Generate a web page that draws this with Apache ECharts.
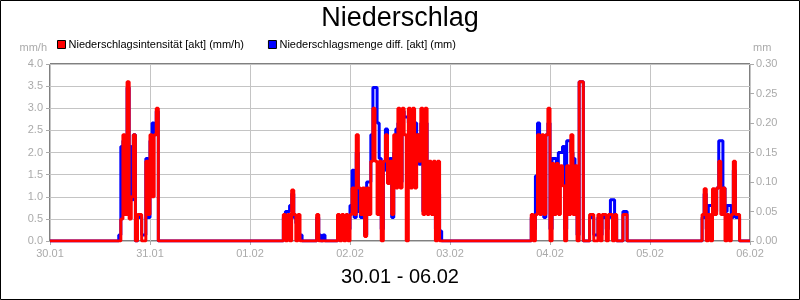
<!DOCTYPE html>
<html>
<head>
<meta charset="utf-8">
<script src="https://cdn.jsdelivr.net/npm/echarts@6/dist/echarts.min.js"></script>
<style>html,body{margin:0;padding:0;background:#fff;}#c{width:800px;height:300px;}</style>
</head>
<body>
<div id="c"></div>
<script>
// Time axis: hours since 30.01 00:00
const dayLabels = ['30.01','31.01','01.02','02.02','03.02','04.02','05.02','06.02'];
const hours = [0,
  16.5,17,17.5,18,18.5,19,19.5,20,20.5,21,21.5,22,22.5,23,23.5,24,24.5,25,25.5,26,
  56,56.5,57,57.5,58,58.5,59,59.5,60,60.5,64,64.5,65,65.5,66,
  69,69.5,70,70.5,71,71.5,72,72.5,73,73.5,74,74.5,75,75.5,76,76.5,77,77.5,78,78.5,79,79.5,80,80.5,81,81.5,82,82.5,83,83.5,84,84.5,85,85.5,86,86.5,87,87.5,88,88.5,89,89.5,90,90.5,91,91.5,92,92.5,93,93.5,94,
  115.5,116,116.5,117,117.5,118,118.5,119,119.5,120,120.5,121,121.5,122,122.5,123,123.5,124,124.5,125,125.5,126,126.5,127,127.5,128,129.5,130,130.5,131,131.5,132,132.5,133,133.5,134,134.5,135,135.5,136,137.5,138,138.5,
  156.5,157,157.5,158,158.5,159,159.5,160,160.5,161,161.5,162,162.5,163,163.5,164,164.5,165,165.5,
  168];
// Niederschlagsintensität [akt] (mm/h)
const intensity = [0,
  0,0.5,2.4,0.6,3.6,0.5,1.0,2.4,0,0.6,0.6,0,0,1.8,0.6,2.4,1.0,2.4,3.0,0,
  0.6,0,0.6,0,1.15,0.6,0,0.6,0,0,0.6,0,0,0,0,
  0.6,0,0.6,0,0.6,0,0.6,1.2,0.6,2.4,1.2,0.6,1.2,0.1,1.2,0.6,1.8,3.0,1.8,0.6,1.8,0,1.8,2.4,1.3,1.8,0.6,2.4,1.2,3.0,1.2,3.0,2.4,0,3.0,1.2,3.0,1.2,2.4,1.8,3.0,0.6,3.0,0.6,1.8,0.6,1.8,0,1.8,0,0,
  0.6,0,0.6,2.4,0.6,2.4,0.6,2.4,3.0,0,1.75,0.6,1.75,0.6,1.7,1.25,0,1.7,0.6,2.4,0.6,1.7,0,3.6,3.6,0,0.6,0.6,0,0,0.6,0,0.6,0.6,0,0.6,0.6,0,0.6,0,0.6,0.6,0,
  0.6,1.18,0,0.6,0,1.18,0.6,1.2,1.8,0.6,1.2,0,0.6,0,0.6,1.8,0.6,0.6,0,
  0];
// Niederschlagsmenge diff. [akt] (mm)
const amount = [0,
  0.01,0.16,0.17,0.05,0.26,0.16,0.07,0.18,0,0.04,0.04,0.01,0.01,0.14,0.04,0.17,0.2,0.18,0.22,0,
  0.04,0.05,0.05,0.06,0.08,0.04,0.03,0.01,0.01,0,0.04,0.01,0,0.01,0,
  0.04,0.02,0.04,0.02,0.02,0.02,0.06,0.12,0.04,0.15,0.05,0.04,0.08,0.01,0.1,0.1,0.18,0.26,0.26,0.2,0.14,0.02,0.12,0.19,0.1,0.14,0.04,0.15,0.19,0.2,0.1,0.22,0.21,0.21,0.2,0.1,0.2,0.2,0.18,0.13,0.2,0.05,0.2,0.05,0.1,0.13,0.13,0.02,0.08,0.017,0,
  0.04,0.02,0.11,0.2,0.05,0.17,0.04,0.18,0.2,0.02,0.14,0.14,0.13,0.15,0.15,0.16,0.02,0.17,0.17,0.15,0.14,0.1,0.01,0.27,0.27,0,0.04,0.04,0.01,0.01,0.04,0.01,0.04,0.04,0.02,0.04,0.07,0.07,0.04,0,0.05,0.05,0,
  0.04,0.08,0.02,0.06,0.06,0.08,0.05,0.09,0.17,0.17,0.09,0.05,0.06,0.06,0.04,0.12,0.04,0.04,0,
  0];

const redName = 'Niederschlagsintensität [akt] (mm/h)';
const blueName = 'Niederschlagsmenge diff. [akt] (mm)';
const font = 'Liberation Sans, Arial, sans-serif';
const grey = '#aaaaaa';
const gridGrey = '#c4c4c4';

const chart = echarts.init(document.getElementById('c'), null, {renderer: 'canvas'});
chart.setOption({
  animation: false,
  backgroundColor: '#fff',
  textStyle: {fontFamily: font},
  title: {
    text: 'Niederschlag', left: 'center', top: 5, padding: 0,
    textStyle: {fontSize: 27, fontWeight: 'normal', color: '#000', fontFamily: font}
  },
  legend: {
    data: [redName, blueName],
    left: 57, top: 39, padding: 0,
    icon: 'rect', itemWidth: 8, itemHeight: 8, itemGap: 24,
    itemStyle: {borderColor: '#000', borderWidth: 1},
    textStyle: {fontSize: 11, color: '#000', fontFamily: font, padding: [0, 0, 0, -2]}
  },
  grid: {left: 50, right: 50, top: 64, bottom: 59, show: true, borderColor: '#000', borderWidth: 1, backgroundColor: 'transparent'},
  xAxis: {
    type: 'value', min: 0, max: 168, interval: 24,
    axisLine: {show: false},
    axisTick: {show: true, length: 4, lineStyle: {color: grey}},
    axisLabel: {color: grey, fontSize: 11, margin: 7, fontFamily: font,
      formatter: v => dayLabels[Math.round(v / 24)]},
    splitLine: {show: true, lineStyle: {color: gridGrey, width: 1}}
  },
  yAxis: [{
    type: 'value', min: 0, max: 4, interval: 0.5, position: 'left',
    name: 'mm/h', nameLocation: 'end', nameGap: 11,
    nameTextStyle: {color: grey, fontSize: 11, align: 'right', fontFamily: font, padding: [0, 3, 0, 0]},
    axisLine: {show: false},
    axisTick: {show: true, length: 4, lineStyle: {color: grey}},
    axisLabel: {color: grey, fontSize: 11, margin: 7, fontFamily: font, formatter: v => v.toFixed(1)},
    splitLine: {show: true, lineStyle: {color: gridGrey, width: 1}}
  }, {
    type: 'value', min: 0, max: 0.3, interval: 0.05, position: 'right',
    name: 'mm', nameLocation: 'end', nameGap: 11,
    nameTextStyle: {color: grey, fontSize: 11, align: 'left', fontFamily: font, padding: [0, 0, 0, 3]},
    axisLine: {show: false},
    axisTick: {show: true, length: 4, lineStyle: {color: grey}},
    axisLabel: {color: grey, fontSize: 11, margin: 6, fontFamily: font, formatter: v => v.toFixed(2)},
    splitLine: {show: false}
  }],
  series: [{
    name: blueName, type: 'line', yAxisIndex: 1, step: 'end', showSymbol: false, symbol: 'none',
    color: '#0000ff', lineStyle: {color: '#0000ff', width: 3},
    data: hours.map((h, i) => [h, amount[i]])
  }, {
    name: redName, type: 'line', yAxisIndex: 0, step: 'end', showSymbol: false, symbol: 'none',
    color: '#ff0000', lineStyle: {color: '#ff0000', width: 3},
    data: hours.map((h, i) => [h, intensity[i]])
  }],
  graphic: [{
    type: 'text', left: 'center', top: 267,
    style: {text: '30.01 - 06.02', fontSize: 20, fill: '#000', fontFamily: font}
  }, {
    type: 'rect', silent: true, z: 100,
    shape: {x: 0.5, y: 0.5, width: 799, height: 299},
    style: {fill: null, stroke: '#000', lineWidth: 1}
  }]
});
</script>
</body>
</html>
